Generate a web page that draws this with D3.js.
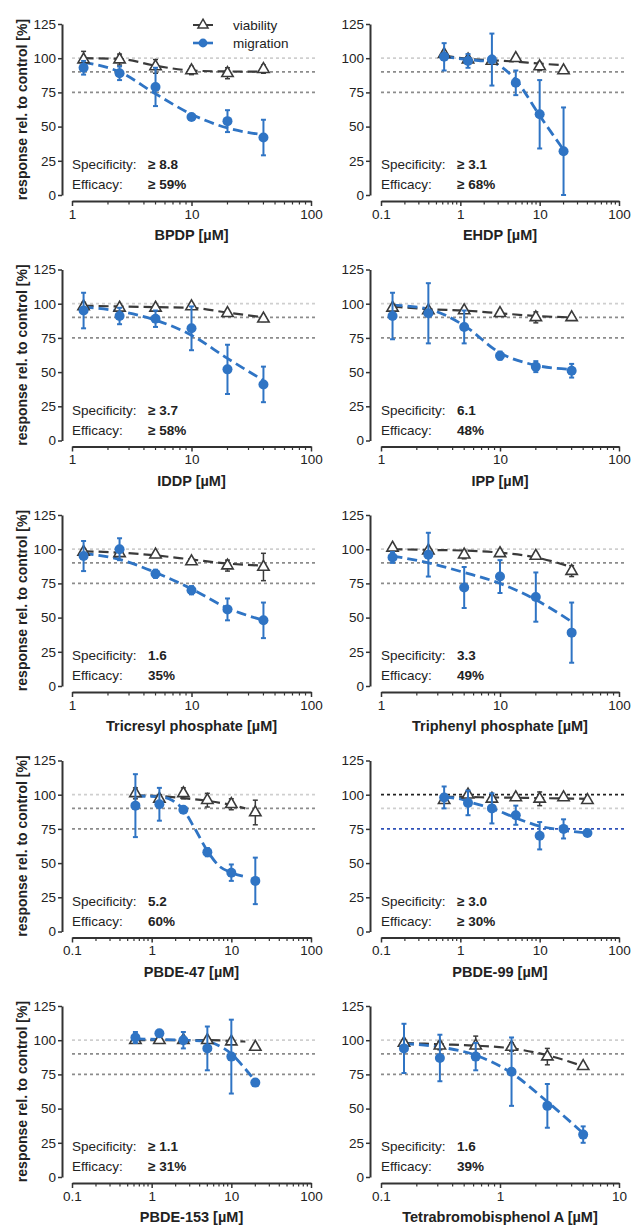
<!DOCTYPE html>
<html>
<head>
<meta charset="utf-8">
<script src="https://cdn.jsdelivr.net/npm/d3@7"></script>
<style>
  body { margin: 0; background: #fff; }
  svg text { font-family: "Liberation Sans", Arial, sans-serif; fill: #222; }
</style>
</head>
<body>
<script>
// panel data (mean +- sd, % of control)
var panelNames = ["BPDP", "EHDP", "IDDP", "IPP", "Tricresyl phosphate", "Triphenyl phosphate",
                  "PBDE-47", "PBDE-99", "PBDE-153", "Tetrabromobisphenol A"];
var xDomains = [[1,100],[0.1,100],[1,100],[1,100],[1,100],[1,100],[0.1,100],[0.1,100],[0.1,100],[0.1,10]];

var concs = [
  [1.25,2.5,5,10,20,40],
  [0.625,1.25,2.5,5,10,20],
  [1.25,2.5,5,10,20,40],
  [1.25,2.5,5,10,20,40],
  [1.25,2.5,5,10,20,40],
  [1.25,2.5,5,10,20,40],
  [0.625,1.25,2.5,5,10,20],
  [0.625,1.25,2.5,5,10,20,40],
  [0.625,1.25,2.5,5,10,20],
  [0.156,0.3125,0.625,1.25,2.5,5]
];
var viaMean = [
  [99,99,94,91,89,92],
  [103,99,98,100,94,91],
  [98,97,97,98,93,89],
  [97,95,95,93,90,90],
  [98,97,96,91,88,87],
  [101,99,96,97,95,84],
  [101,97,101,96,93,87],
  [96,100,97,98,97,98,96],
  [100,100,100,100,99,95],
  [98,96,96,95,88,81]
];
var viaErr = [
  [6,4,5,3,4,3],
  [2,2,2,1,3,2],
  [3,2,2,2,2,2],
  [2,2,2,2,4,2],
  [2,2,2,2,4,10],
  [2,2,3,2,2,4],
  [4,3,4,5,4,9],
  [2,2,2,2,5,1,1],
  [1,1,1,1,1,1],
  [2,3,7,3,6,2]
];
var migMean = [
  [93,89,79,57,54,42],
  [101,98,99,82,59,32],
  [95,91,89,82,52,41],
  [91,93,83,62,54,51],
  [95,100,82,70,56,48],
  [94,96,72,80,65,39],
  [92,93,89,58,43,37],
  [98,94,90,85,70,75,72],
  [102,105,100,94,88,69],
  [94,87,88,77,52,31]
];
var migErr = [
  [5,5,14,2,8,13],
  [10,5,19,9,25,32],
  [13,6,6,16,18,13],
  [17,22,12,3,4,5],
  [11,8,3,3,8,13],
  [4,16,15,12,18,22],
  [23,12,2,3,6,17],
  [8,9,11,7,10,7,2],
  [4,2,6,16,27,1],
  [18,17,10,25,16,6]
];

// fitted curves, sampled from the figure
var viaFitX = [
  [1.25,2.5,5,10,20,40],
  [0.625,1.25,2.5,5,10,20],
  [1.25,2.5,5,10,20,40],
  [1.25,2.5,5,10,20,40],
  [1.25,2.5,5,10,20,40],
  [1.25,2.5,5,10,20,40],
  [0.625,1.25,2.5,5,10,15],
  [0.625,1.25,2.5,5,10,20,40],
  [0.625,1.25,2.5,5,10,15],
  [0.156,0.3125,0.625,1.25,2.5,5]
];
var viaFitY = [
  [100,99.5,94.5,91,90.3,90.2],
  [102,99.5,98.5,97.5,96,95],
  [98.5,98,97.5,97,93.5,90],
  [98,96,95,93,91,90],
  [98.5,97.5,95.5,92.5,89.5,88],
  [100,99.5,99,97.5,94,87],
  [99.5,99,97.5,95.5,92.5,90],
  [98.5,98.3,98,97.8,97.5,97.3,97],
  [100,100,100,100,99.5,99],
  [98,97,96,94,89,81]
];
var migFitX = [
  [1.25,2.5,5,10,20,40],
  [0.625,1.25,2.5,5,10,20],
  [1.25,2.5,5,10,20,40],
  [1.25,2.5,5,10,20,40],
  [1.25,2.5,5,10,20,40],
  [1.25,2.5,5,10,20,40],
  [0.625,1.25,1.8,2.5,3.5,5,7,10,15],
  [0.625,1,1.25,2.5,5,10,20,40],
  [0.625,1.25,2.5,5,7,10,14,20],
  [0.156,0.3125,0.625,1.25,2.5,5]
];
var migFitY = [
  [97,90,74,59,49,44],
  [101,99,97,84,58,33],
  [97.5,94.5,88,77,60,44],
  [99,96,84,64,55,52],
  [97,92.5,83,71,57,48],
  [95,90,83,75,63,47],
  [99,98.5,96,89,75,59,48,43,40],
  [98,97,95,90,83,77,74,72],
  [101,100.5,100,99,96,90,81,70],
  [97.5,95,89,76,55,32]
];

var specificity = ["\u2265 8.8","\u2265 3.1","\u2265 3.7","6.1","1.6","3.3","5.2","\u2265 3.0","\u2265 1.1","1.6"];
var efficacy = ["\u2265 59%","\u2265 68%","\u2265 58%","48%","35%","49%","60%","\u2265 30%","\u2265 31%","39%"];

var yTicks = [0,25,50,75,100,125];
var refLevels = [100, 90, 75];
var refColors = [["#cfcfcf","#8c8c8c","#8c8c8c"],["#cfcfcf","#8c8c8c","#8c8c8c"],["#cfcfcf","#8c8c8c","#8c8c8c"],
                 ["#cfcfcf","#8c8c8c","#8c8c8c"],["#cfcfcf","#8c8c8c","#8c8c8c"],["#cfcfcf","#8c8c8c","#8c8c8c"],
                 ["#cfcfcf","#8c8c8c","#8c8c8c"],["#222222","#cfcfcf","#2f52b8"],["#cfcfcf","#8c8c8c","#8c8c8c"],
                 ["#cfcfcf","#8c8c8c","#8c8c8c"]];
var legendNames = ["viability", "migration"];

var blue = "#2f74c4", dark = "#3a3a3a";
var width = 632, height = 1227;

var svg = d3.select("body").append("svg")
    .attr("width", width)
    .attr("height", height);

var colYAxis = [62, 370], colXStart = [72, 381], colXEnd = [311, 619];
var rowTop = 24, rowZero = 195, rowStep = 245.5;

panelNames.forEach(function(name, i) {
    var col = i % 2, row = Math.floor(i / 2);
    var g = svg.append("g");
    var top = rowTop + row * rowStep, zero = rowZero + row * rowStep;

    var x = d3.scaleLog().domain(xDomains[i]).range([colXStart[col], colXEnd[col]]);
    var y = d3.scaleLinear().domain([0, 125]).range([zero, top]);

    // reference lines
    refLevels.forEach(function(v, k) {
        g.append("line")
            .attr("x1", colXStart[col]).attr("x2", colXEnd[col] + 5)
            .attr("y1", y(v)).attr("y2", y(v))
            .attr("stroke", refColors[i][k])
            .attr("stroke-width", 1.8)
            .attr("stroke-dasharray", "3,3");
    });

    // y axis
    var yAxis = g.append("g")
        .attr("transform", "translate(" + colYAxis[col] + ",0)")
        .call(d3.axisLeft(y).tickValues(yTicks).tickSize(4).tickSizeOuter(0).tickPadding(2));
    yAxis.select(".domain").attr("stroke", "#333").attr("stroke-width", 2);
    yAxis.selectAll(".tick line").attr("stroke", "#333").attr("stroke-width", 1.5);
    yAxis.selectAll("text").attr("font-size", 13.5).attr("fill", "#222");

    // x axis (log, minor ticks)
    var xAxisY = zero + 6;
    var lo = Math.log10(xDomains[i][0]), hi = Math.log10(xDomains[i][1]);
    var majors = d3.range(lo, hi + 1).map(function(e) { return Math.pow(10, e); });
    var minors = [];
    majors.slice(0, -1).forEach(function(m) {
        for (var k = 2; k <= 9; k++) minors.push(m * k);
    });
    var xAxis = g.append("g")
        .attr("transform", "translate(0," + xAxisY + ")")
        .call(d3.axisBottom(x).tickValues(majors).tickSize(5).tickSizeOuter(0).tickPadding(3)
            .tickFormat(function(d) { return d >= 1 ? d3.format("d")(d) : String(+d.toFixed(2)); }));
    xAxis.select(".domain").attr("stroke", "#333").attr("stroke-width", 2);
    xAxis.selectAll(".tick line").attr("stroke", "#333").attr("stroke-width", 1.5);
    xAxis.selectAll("text").attr("font-size", 13.5).attr("fill", "#222");
    xAxis.selectAll(".minor").data(minors).enter().append("line")
        .attr("class", "minor")
        .attr("x1", function(d) { return x(d); }).attr("x2", function(d) { return x(d); })
        .attr("y1", 0).attr("y2", 3.5)
        .attr("stroke", "#333").attr("stroke-width", 1.2);

    // x label
    g.append("text")
        .attr("x", (colXStart[col] + colXEnd[col]) / 2)
        .attr("y", zero + 45)
        .attr("text-anchor", "middle")
        .attr("font-size", 14.5)
        .attr("font-weight", "bold")
        .text(name + " [\u00b5M]");

    if (col === 0) {
        g.append("text")
            .attr("transform", "translate(22," + ((top + zero) / 2) + ") rotate(-90)")
            .attr("text-anchor", "middle")
            .attr("dy", "0.35em")
            .attr("font-size", 14)
            .attr("font-weight", "bold")
            .text("response rel. to control [%]");
    }

    // fit lines
    var line = d3.line()
        .x(function(d) { return x(d[0]); })
        .y(function(d) { return y(d[1]); })
        .curve(d3.curveMonotoneX);

    g.append("path")
        .datum(d3.zip(viaFitX[i], viaFitY[i]))
        .attr("d", line)
        .attr("fill", "none")
        .attr("stroke", dark)
        .attr("stroke-width", 2.2)
        .attr("stroke-dasharray", "10,5");

    g.append("path")
        .datum(d3.zip(migFitX[i], migFitY[i]))
        .attr("d", line)
        .attr("fill", "none")
        .attr("stroke", blue)
        .attr("stroke-width", 2.8)
        .attr("stroke-dasharray", "10,5");

    // viability error bars + triangles
    var via = concs[i].map(function(c, k) { return {c: c, m: viaMean[i][k], e: viaErr[i][k]}; });
    var mig = concs[i].map(function(c, k) { return {c: c, m: migMean[i][k], e: migErr[i][k]}; });

    function errorBars(data, color, w) {
        var eb = g.append("g").selectAll("g").data(data).enter().append("g")
            .attr("stroke", color).attr("stroke-width", w);
        eb.append("line")
            .attr("x1", function(d) { return x(d.c); }).attr("x2", function(d) { return x(d.c); })
            .attr("y1", function(d) { return y(d.m - d.e); }).attr("y2", function(d) { return y(d.m + d.e); });
        eb.append("line")
            .attr("x1", function(d) { return x(d.c) - 2.5; }).attr("x2", function(d) { return x(d.c) + 2.5; })
            .attr("y1", function(d) { return y(d.m - d.e); }).attr("y2", function(d) { return y(d.m - d.e); });
        eb.append("line")
            .attr("x1", function(d) { return x(d.c) - 2.5; }).attr("x2", function(d) { return x(d.c) + 2.5; })
            .attr("y1", function(d) { return y(d.m + d.e); }).attr("y2", function(d) { return y(d.m + d.e); });
    }

    errorBars(via, dark, 1.5);
    g.append("g").selectAll("path").data(via).enter().append("path")
        .attr("d", d3.symbol(d3.symbolTriangle, 56))
        .attr("transform", function(d) { return "translate(" + x(d.c) + "," + y(d.m) + ")"; })
        .attr("fill", "#fff")
        .attr("stroke", dark)
        .attr("stroke-width", 1.6);

    errorBars(mig, blue, 2);
    g.append("g").selectAll("circle").data(mig).enter().append("circle")
        .attr("cx", function(d) { return x(d.c); })
        .attr("cy", function(d) { return y(d.m); })
        .attr("r", 5)
        .attr("fill", blue);

    // annotation
    var ax = colXStart[col];
    g.append("text").attr("x", ax).attr("y", zero - 26).attr("font-size", 13.5).text("Specificity:");
    g.append("text").attr("x", ax).attr("y", zero - 6).attr("font-size", 13.5).text("Efficacy:");
    g.append("text").attr("x", ax + 76).attr("y", zero - 26).attr("font-size", 13.5)
        .attr("font-weight", "bold").text(specificity[i]);
    g.append("text").attr("x", ax + 76).attr("y", zero - 6).attr("font-size", 13.5)
        .attr("font-weight", "bold").text(efficacy[i]);

    // legend in the first panel only
    if (i === 0) {
        var lg = g.append("g").attr("transform", "translate(193,25)");
        legendNames.forEach(function(n, k) {
            var ly = k * 18;
            var col2 = k === 0 ? dark : blue;
            lg.append("line").attr("x1", 0).attr("x2", 20).attr("y1", ly).attr("y2", ly)
                .attr("stroke", col2).attr("stroke-width", k === 0 ? 2 : 2.6);
            if (k === 0) {
                lg.append("path").attr("d", d3.symbol(d3.symbolTriangle, 44))
                    .attr("transform", "translate(10," + ly + ")")
                    .attr("fill", "#fff").attr("stroke", dark).attr("stroke-width", 1.5);
            } else {
                lg.append("circle").attr("cx", 10).attr("cy", ly).attr("r", 4.4).attr("fill", blue);
            }
            lg.append("text").attr("x", 40).attr("y", ly).attr("dy", "0.35em")
                .attr("font-size", 13.5).text(n);
        });
    }
});
</script>
</body>
</html>
